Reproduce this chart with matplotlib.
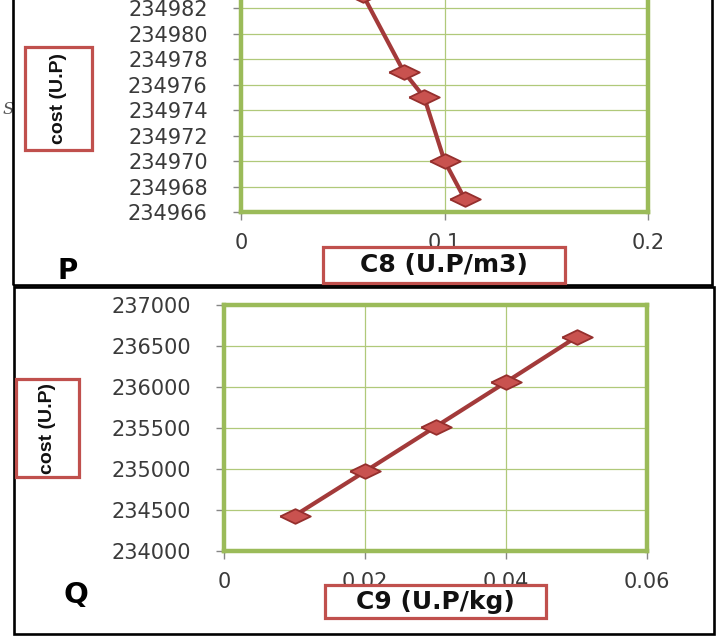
import matplotlib
matplotlib.use("Agg")
import matplotlib.pyplot as plt
from matplotlib.patches import Rectangle

# C8 sweep (panel P)
c8_values = [0.06, 0.08, 0.09, 0.10, 0.11]
c8_cost = [234983, 234977, 234975, 234970, 234967]
c8_ticks = [0, 0.1, 0.2]
c8_ticklabels = ["0", "0.1", "0.2"]
c8_yticks = [234966, 234968, 234970, 234972, 234974, 234976, 234978, 234980, 234982]

# C9 sweep (panel Q)
c9_values = [0.01, 0.02, 0.03, 0.04, 0.05]
c9_cost = [234430, 234970, 235515, 236060, 236610]
c9_ticks = [0, 0.02, 0.04, 0.06]
c9_ticklabels = ["0", "0.02", "0.04", "0.06"]
c9_yticks = [234000, 234500, 235000, 235500, 236000, 236500, 237000]

W, H = 718, 636
GREEN = "#9BBB59"
GRID = "#B0C97A"
RED_LINE = "#A33A3A"
RED_FACE = "#C9524F"
RED_EDGE = "#952F2D"
BOX_RED = "#C0504D"
TICK_GRAY = "#868686"
TEXT_GRAY = "#3A3A3A"

# wide diamond used for the markers
DIAMOND = [(-1, 0), (0, 0.48), (1, 0), (0, -0.48), (-1, 0)]


def fx(x):
    return x / W


def fy(y):
    return 1 - y / H


def frame(fig, x0, y0, x1, y1, color, lw):
    fig.add_artist(Rectangle((fx(x0), fy(y1)), fx(x1) - fx(x0), fy(y0) - fy(y1),
                             transform=fig.transFigure, fill=False,
                             edgecolor=color, linewidth=lw, zorder=5))


def label_box(fig, x0, y0, x1, y1, text, rotation=0, **kw):
    fig.add_artist(Rectangle((fx(x0), fy(y1)), fx(x1) - fx(x0), fy(y0) - fy(y1),
                             transform=fig.transFigure, facecolor="white",
                             edgecolor=BOX_RED, linewidth=2.3, zorder=6))
    fig.text(fx((x0 + x1) / 2), fy((y0 + y1) / 2), text, rotation=rotation,
             ha="center", va="center", color="#111111", zorder=7, **kw)


def style_axes(ax, xticks, xlabels, yticks):
    ax.set_xticks(xticks)
    ax.set_xticklabels(xlabels)
    ax.set_yticks(yticks)
    ax.set_yticklabels([str(v) for v in yticks])
    ax.grid(True, color=GRID, linewidth=0.9)
    ax.set_axisbelow(True)
    for side in ax.spines.values():
        side.set_color(GREEN)
        side.set_linewidth(3.2)
    ax.tick_params(axis="both", colors=TICK_GRAY, length=6, width=1,
                   labelcolor=TEXT_GRAY, labelsize=15)
    ax.tick_params(axis="y", pad=18)
    ax.tick_params(axis="x", pad=9)


fig = plt.figure(figsize=(W / 100, H / 100), dpi=100)
fig.patch.set_facecolor("white")

# ---- panel P (its upper part runs past the top edge) ----
p_lo, p_hi = 234966, 234990
p_px = 12.75  # pixels per unit of cost
axp = fig.add_axes([fx(241), fy(212), fx(648) - fx(241), (p_hi - p_lo) * p_px / H])
axp.plot(c8_values, c8_cost, color=RED_LINE, linewidth=3, marker=DIAMOND,
         markersize=22, markerfacecolor=RED_FACE, markeredgecolor=RED_EDGE,
         markeredgewidth=1.3)
axp.set_xlim(0, 0.2)
axp.set_ylim(p_lo, p_hi)
style_axes(axp, c8_ticks, c8_ticklabels, c8_yticks)

# ---- panel Q ----
axq = fig.add_axes([fx(224), fy(551), fx(647) - fx(224), (551 - 305) / H])
axq.plot(c9_values, c9_cost, color=RED_LINE, linewidth=3, marker=DIAMOND,
         markersize=22, markerfacecolor=RED_FACE, markeredgecolor=RED_EDGE,
         markeredgewidth=1.3)
axq.set_xlim(0, 0.06)
axq.set_ylim(234000, 237000)
style_axes(axq, c9_ticks, c9_ticklabels, c9_yticks)

# outer panel frames
frame(fig, 13, -10, 712, 285, "black", 1.9)
frame(fig, 14, 287, 714, 634, "black", 1.9)

# axis titles in red boxes
narrow = ["Liberation Sans Narrow", "Liberation Sans", "DejaVu Sans"]
label_box(fig, 25, 47, 92, 150, "cost (U.P)", rotation=90,
          family=narrow, weight="bold", fontsize=14)
label_box(fig, 323, 247, 565, 283, "C8 (U.P/m3)", weight="bold", fontsize=18)
label_box(fig, 16, 379, 79, 477, "cost (U.P)", rotation=90,
          family=narrow, weight="bold", fontsize=14)
label_box(fig, 325, 585, 546, 618, "C9 (U.P/kg)", weight="bold", fontsize=18)

# panel letters
fig.text(fx(68), fy(271), "P", weight="bold", fontsize=20, ha="center", va="center")
fig.text(fx(76), fy(595), "Q", weight="bold", fontsize=21, ha="center", va="center")

# stray glyph at the left margin
fig.text(fx(3), fy(110), "S", style="italic", family="DejaVu Serif",
         fontsize=12, color="#555555", ha="left", va="center")

fig.savefig("out.png", dpi=100)
